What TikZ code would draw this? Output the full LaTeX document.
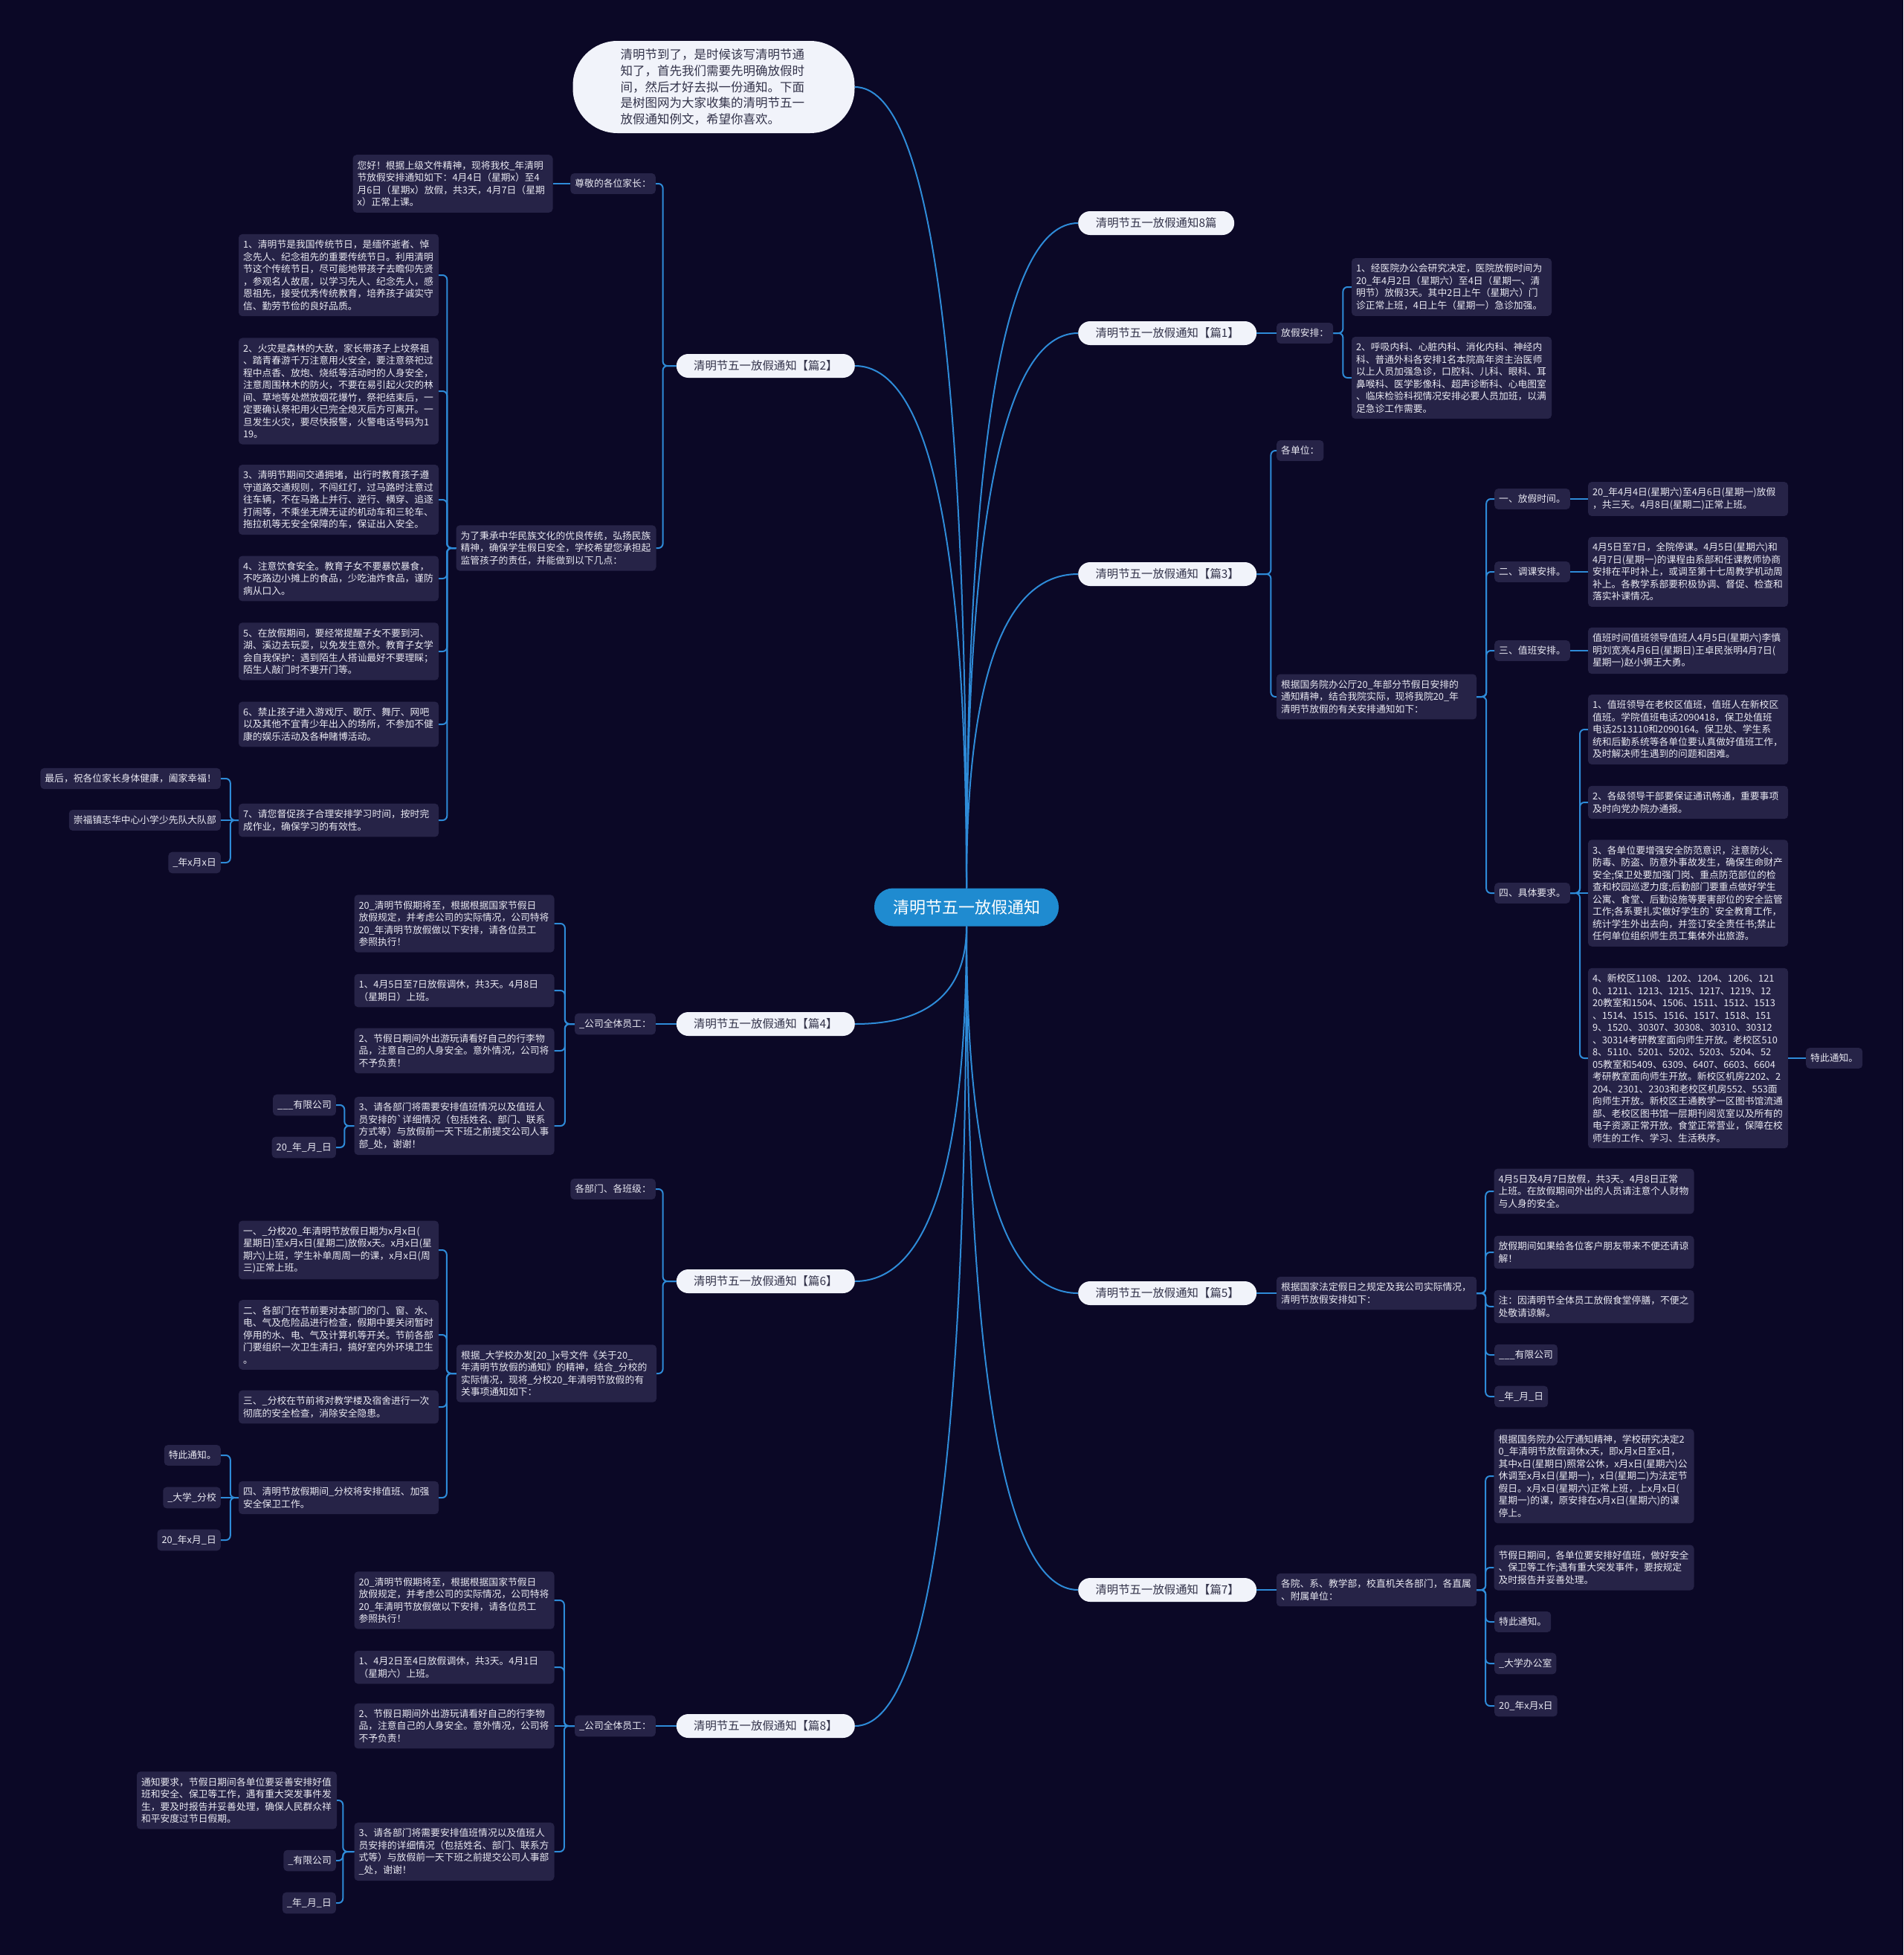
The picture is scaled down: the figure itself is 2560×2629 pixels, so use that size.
\documentclass[tikz,border=0pt]{standalone}
\usepackage{fontspec}
\setmainfont{Noto Sans CJK SC}
\usetikzlibrary{calc}
\definecolor{bgc}{HTML}{0B0826}
\definecolor{leaffill}{HTML}{262347}
\definecolor{leaftext}{HTML}{E9E9F2}
\definecolor{linec}{HTML}{2E8BD8}
\definecolor{rootfill}{HTML}{1F8BD0}
\definecolor{lvfill}{HTML}{F1F3FA}
\definecolor{lvtext}{HTML}{33334A}
\newcommand\leaffont{\fontsize{12.8pt}{16.5pt}\selectfont}
\newcommand\lvfont{\fontsize{15.4pt}{18pt}\selectfont}
\newcommand\rootfont{\fontsize{22pt}{26pt}\selectfont}
\newcommand\bubfont{\fontsize{16.5pt}{21.7pt}\selectfont}
\newcommand\mmcurve[2]{\draw[mline] (#1) .. controls ($(#1)!0.6667!(#1 |- #2)$) and ($(#2)!0.6667!(#1 |- #2)$) .. (#2);}
\tikzset{
 leaf/.style={fill=leaffill, text=leaftext, rounded corners=5pt, inner xsep=6pt, inner ysep=8pt, font=\leaffont},
 wleaf/.style={leaf, text width=257pt, align=left},
 lvl1/.style={fill=lvfill, text=lvtext, rounded corners=16pt, minimum width=240pt, minimum height=32pt, inner sep=0pt, font=\lvfont},
 rootnode/.style={fill=rootfill, text=white, rounded corners=25pt, minimum width=248pt, minimum height=51pt, inner sep=0pt, font=\rootfont},
 bubble/.style={fill=lvfill, text=lvtext, rounded corners=60pt, minimum width=379pt, minimum height=124pt, text width=251pt, align=left, font=\bubfont, inner sep=0pt},
 conn/.style={draw=linec, line width=2pt, rounded corners=6pt},
 mline/.style={draw=linec, line width=2pt},
}
\begin{document}
\begin{tikzpicture}[x=1pt,y=-1pt]
\useasboundingbox (0,0) rectangle (2560,2629);
\fill[bgc] (0,0) rectangle (2560,2629);

% root and intro
\node[rootnode] (c) at (1300,1220) {清明节五一放假通知};
\node[bubble] (intro) at (960,117) {清明节到了，是时候该写清明节通\\知了，首先我们需要先明确放假时\\间，然后才好去拟一份通知。下面\\是树图网为大家收集的清明节五一\\放假通知例文，希望你喜欢。};

% level 1
\node[lvl1, anchor=west, minimum width=210pt] (p0) at (1450,300) {清明节五一放假通知8篇};
\node[lvl1, anchor=west] (p1) at (1450,448) {清明节五一放假通知【篇1】};
\node[lvl1, anchor=west] (p3) at (1450,772) {清明节五一放假通知【篇3】};
\node[lvl1, anchor=west] (p5) at (1450,1739) {清明节五一放假通知【篇5】};
\node[lvl1, anchor=west] (p7) at (1450,2138) {清明节五一放假通知【篇7】};
\node[lvl1, anchor=east] (p2) at (1150,492) {清明节五一放假通知【篇2】};
\node[lvl1, anchor=east] (p4) at (1150,1377) {清明节五一放假通知【篇4】};
\node[lvl1, anchor=east] (p6) at (1150,1723) {清明节五一放假通知【篇6】};
\node[lvl1, anchor=east] (p8) at (1150,2321) {清明节五一放假通知【篇8】};

\mmcurve{c.north}{intro.east}
\mmcurve{c.north}{p2.east}
\mmcurve{c.north}{p0.west}
\mmcurve{c.north}{p1.west}
\mmcurve{c.north}{p3.west}
\mmcurve{c.south}{p4.east}
\mmcurve{c.south}{p6.east}
\mmcurve{c.south}{p8.east}
\mmcurve{c.south}{p5.west}
\mmcurve{c.south}{p7.west}

% ---------- 篇2 ----------
\node[leaf, anchor=east] (p2a) at (882,247) {尊敬的各位家长：};
\node[wleaf] (p2a1) at (609,247) {您好！根据上级文件精神，现将我校\_年清明\\节放假安排通知如下：4月4日（星期x）至4\\月6日（星期x）放假，共3天，4月7日（星期\\x）正常上课。};
\node[wleaf] (p2b) at (748,737) {为了秉承中华民族文化的优良传统，弘扬民族\\精神，确保学生假日安全，学校希望您承担起\\监管孩子的责任，并能做到以下几点：};
\node[wleaf] (p2b1) at (455.5,370) {1、清明节是我国传统节日，是缅怀逝者、悼\\念先人、纪念祖先的重要传统节日。利用清明\\节这个传统节日，尽可能地带孩子去瞻仰先贤\\，参观名人故居，以学习先人、纪念先人，感\\恩祖先，接受优秀传统教育，培养孩子诚实守\\信、勤劳节俭的良好品质。};
\node[wleaf] (p2b2) at (455.5,526) {2、火灾是森林的大敌，家长带孩子上坟祭祖\\、踏青春游千万注意用火安全，要注意祭祀过\\程中点香、放炮、烧纸等活动时的人身安全，\\注意周围林木的防火，不要在易引起火灾的林\\间、草地等处燃放烟花爆竹，祭祀结束后，一\\定要确认祭祀用火已完全熄灭后方可离开。一\\旦发生火灾，要尽快报警，火警电话号码为1\\19。};
\node[wleaf] (p2b3) at (455.5,672) {3、清明节期间交通拥堵，出行时教育孩子遵\\守道路交通规则，不闯红灯，过马路时注意过\\往车辆，不在马路上并行、逆行、横穿、追逐\\打闹等，不乘坐无牌无证的机动车和三轮车、\\拖拉机等无安全保障的车，保证出入安全。};
\node[wleaf] (p2b4) at (455.5,778) {4、注意饮食安全。教育子女不要暴饮暴食，\\不吃路边小摊上的食品，少吃油炸食品，谨防\\病从口入。};
\node[wleaf] (p2b5) at (455.5,876) {5、在放假期间，要经常提醒子女不要到河、\\湖、溪边去玩耍，以免发生意外。教育子女学\\会自我保护：遇到陌生人搭讪最好不要理睬；\\陌生人敲门时不要开门等。};
\node[wleaf] (p2b6) at (455.5,974) {6、禁止孩子进入游戏厅、歌厅、舞厅、网吧\\以及其他不宜青少年出入的场所，不参加不健\\康的娱乐活动及各种赌博活动。};
\node[wleaf] (p2b7) at (455.5,1103) {7、请您督促孩子合理安排学习时间，按时完\\成作业，确保学习的有效性。};
\node[leaf, anchor=east] (p2c1) at (297,1047) {最后，祝各位家长身体健康，阖家幸福！};
\node[leaf, anchor=east] (p2c2) at (297,1103) {崇福镇志华中心小学少先队大队部};
\node[leaf, anchor=east] (p2c3) at (297,1160) {\_年x月x日};

\draw[conn] (p2.west) -- ++(-18,0) |- (p2a.east);
\draw[conn] (p2.west) -- ++(-18,0) |- (p2b.east);
\draw[conn] (p2a.west) -- (p2a1.east);
\foreach \i in {1,...,7} {\draw[conn] (p2b.west) -- ++(-12,0) |- (p2b\i.east);}
\draw[conn] (p2b7.west) -- ++(-11,0) |- (p2c1.east);
\draw[conn] (p2b7.west) -- (p2c2.east);
\draw[conn] (p2b7.west) -- ++(-11,0) |- (p2c3.east);

% ---------- 篇4 ----------
\node[leaf, anchor=east] (p4a) at (882,1377) {\_公司全体员工：};
\node[wleaf] (p4a1) at (611,1242) {20\_清明节假期将至，根据根据国家节假日\\放假规定，并考虑公司的实际情况，公司特将\\20\_年清明节放假做以下安排，请各位员工\\参照执行！};
\node[wleaf] (p4a2) at (611,1332) {1、4月5日至7日放假调休，共3天。4月8日\\（星期日）上班。};
\node[wleaf] (p4a3) at (611,1413) {2、节假日期间外出游玩请看好自己的行李物\\品，注意自己的人身安全。意外情况，公司将\\不予负责！};
\node[wleaf] (p4a4) at (611,1514) {3、请各部门将需要安排值班情况以及值班人\\员安排的\textasciigrave 详细情况（包括姓名、部门、联系\\方式等）与放假前一天下班之前提交公司人事\\部\_处，谢谢！};
\node[leaf, anchor=east] (p4b1) at (452,1486) {\_\_\_有限公司};
\node[leaf, anchor=east] (p4b2) at (452,1543) {20\_年\_月\_日};

\draw[conn] (p4.west) -- (p4a.east);
\foreach \i in {1,...,4} {\draw[conn] (p4a.west) -- ++(-13,0) |- (p4a\i.east);}
\draw[conn] (p4a4.west) -- ++(-13,0) |- (p4b1.east);
\draw[conn] (p4a4.west) -- ++(-13,0) |- (p4b2.east);

% ---------- 篇6 ----------
\node[leaf, anchor=east] (p6a) at (882,1599) {各部门、各班级：};
\node[wleaf] (p6b) at (748.5,1847) {根据\_大学校办发[20\_]x号文件《关于20\_\\年清明节放假的通知》的精神，结合\_分校的\\实际情况，现将\_分校20\_年清明节放假的有\\关事项通知如下：};
\node[wleaf] (p6b1) at (455.5,1681) {一、\_分校20\_年清明节放假日期为x月x日(\\星期日)至x月x日(星期二)放假x天。x月x日(星\\期六)上班，学生补单周周一的课，x月x日(周\\三)正常上班。};
\node[wleaf] (p6b2) at (455.5,1795) {二、各部门在节前要对本部门的门、窗、水、\\电、气及危险品进行检查，假期中要关闭暂时\\停用的水、电、气及计算机等开关。节前各部\\门要组织一次卫生清扫，搞好室内外环境卫生\\。};
\node[wleaf] (p6b3) at (455.5,1892) {三、\_分校在节前将对教学楼及宿舍进行一次\\彻底的安全检查，消除安全隐患。};
\node[wleaf] (p6b4) at (455.5,2014) {四、清明节放假期间\_分校将安排值班、加强\\安全保卫工作。};
\node[leaf, anchor=east] (p6c1) at (297,1957) {特此通知。};
\node[leaf, anchor=east] (p6c2) at (297,2014) {\_大学\_分校};
\node[leaf, anchor=east] (p6c3) at (297,2071) {20\_年x月\_日};

\draw[conn] (p6.west) -- ++(-18,0) |- (p6a.east);
\draw[conn] (p6.west) -- ++(-18,0) |- (p6b.east);
\foreach \i in {1,...,4} {\draw[conn] (p6b.west) -- ++(-13,0) |- (p6b\i.east);}
\draw[conn] (p6b4.west) -- ++(-11,0) |- (p6c1.east);
\draw[conn] (p6b4.west) -- (p6c2.east);
\draw[conn] (p6b4.west) -- ++(-11,0) |- (p6c3.east);

% ---------- 篇8 ----------
\node[leaf, anchor=east] (p8a) at (882,2321) {\_公司全体员工：};
\node[wleaf] (p8a1) at (611,2152) {20\_清明节假期将至，根据根据国家节假日\\放假规定，并考虑公司的实际情况，公司特将\\20\_年清明节放假做以下安排，请各位员工\\参照执行！};
\node[wleaf] (p8a2) at (611,2242) {1、4月2日至4日放假调休，共3天。4月1日\\（星期六）上班。};
\node[wleaf] (p8a3) at (611,2321) {2、节假日期间外出游玩请看好自己的行李物\\品，注意自己的人身安全。意外情况，公司将\\不予负责！};
\node[wleaf] (p8a4) at (611,2490) {3、请各部门将需要安排值班情况以及值班人\\员安排的详细情况（包括姓名、部门、联系方\\式等）与放假前一天下班之前提交公司人事部\\\_处，谢谢！};
\node[wleaf] (p8b1) at (318.5,2421) {通知要求，节假日期间各单位要妥善安排好值\\班和安全、保卫等工作，遇有重大突发事件发\\生，要及时报告并妥善处理，确保人民群众祥\\和平安度过节日假期。};
\node[leaf, anchor=east] (p8b2) at (452,2502) {\_有限公司};
\node[leaf, anchor=east] (p8b3) at (452,2559) {\_年\_月\_日};

\draw[conn] (p8.west) -- (p8a.east);
\draw[conn] (p8a.west) -- ++(-14,0) |- (p8a1.east);
\draw[conn] (p8a.west) -- ++(-14,0) |- (p8a2.east);
\draw[conn] (p8a.west) -- (p8a3.east);
\draw[conn] (p8a.west) -- ++(-14,0) |- (p8a4.east);
\foreach \i in {1,2,3} {\draw[conn] (p8a4.west) -- ++(-15,0) |- (p8b\i.east);}

% ---------- 篇1 ----------
\node[leaf, anchor=west] (p1a) at (1717,448) {放假安排：};
\node[wleaf] (p1a1) at (1952.5,386) {1、经医院办公会研究决定，医院放假时间为\\20\_年4月2日（星期六）至4日（星期一、清\\明节）放假3天。其中2日上午（星期六）门\\诊正常上班，4日上午（星期一）急诊加强。};
\node[wleaf] (p1a2) at (1952.5,508) {2、呼吸内科、心脏内科、消化内科、神经内\\科、普通外科各安排1名本院高年资主治医师\\以上人员加强急诊，口腔科、儿科、眼科、耳\\鼻喉科、医学影像科、超声诊断科、心电图室\\、临床检验科视情况安排必要人员加班，以满\\足急诊工作需要。};

\draw[conn] (p1.east) -- (p1a.west);
\draw[conn] (p1a.east) -- ++(13,0) |- (p1a1.west);
\draw[conn] (p1a.east) -- ++(13,0) |- (p1a2.west);

% ---------- 篇3 ----------
\node[leaf, anchor=west] (p3a) at (1717,606) {各单位：};
\node[wleaf] (p3b) at (1851.5,937) {根据国务院办公厅20\_年部分节假日安排的\\通知精神，结合我院实际，现将我院20\_年\\清明节放假的有关安排通知如下：};
\node[leaf, anchor=west] (p3c1) at (2010,671) {一、放假时间。};
\node[leaf, anchor=west] (p3c2) at (2010,769) {二、调课安排。};
\node[leaf, anchor=west] (p3c3) at (2010,875) {三、值班安排。};
\node[leaf, anchor=west] (p3c4) at (2010,1201) {四、具体要求。};
\node[wleaf] (p3d1) at (2270.5,671) {20\_年4月4日(星期六)至4月6日(星期一)放假\\，共三天。4月8日(星期二)正常上班。};
\node[wleaf] (p3d2) at (2270.5,769) {4月5日至7日，全院停课。4月5日(星期六)和\\4月7日(星期一)的课程由系部和任课教师协商\\安排在平时补上，或调至第十七周教学机动周\\补上。各教学系部要积极协调、督促、检查和\\落实补课情况。};
\node[wleaf] (p3d3) at (2270.5,875) {值班时间值班领导值班人4月5日(星期六)李慎\\明刘宽亮4月6日(星期日)王卓民张明4月7日(\\星期一)赵小狮王大勇。};
\node[wleaf] (p3e1) at (2270.5,981) {1、值班领导在老校区值班，值班人在新校区\\值班。学院值班电话2090418，保卫处值班\\电话2513110和2090164。保卫处、学生系\\统和后勤系统等各单位要认真做好值班工作，\\及时解决师生遇到的问题和困难。};
\node[wleaf] (p3e2) at (2270.5,1079) {2、各级领导干部要保证通讯畅通，重要事项\\及时向党办院办通报。};
\node[wleaf] (p3e3) at (2270.5,1201) {3、各单位要增强安全防范意识，注意防火、\\防毒、防盗、防意外事故发生，确保生命财产\\安全;保卫处要加强门岗、重点防范部位的检\\查和校园巡逻力度;后勤部门要重点做好学生\\公寓、食堂、后勤设施等要害部位的安全监管\\工作;各系要扎实做好学生的\textasciigrave 安全教育工作，\\统计学生外出去向，并签订安全责任书;禁止\\任何单位组织师生员工集体外出旅游。};
\node[wleaf] (p3e4) at (2270.5,1423) {4、新校区1108、1202、1204、1206、121\\0、1211、1213、1215、1217、1219、12\\20教室和1504、1506、1511、1512、1513\\、1514、1515、1516、1517、1518、151\\9、1520、30307、30308、30310、30312\\、30314考研教室面向师生开放。老校区510\\8、5110、5201、5202、5203、5204、52\\05教室和5409、6309、6407、6603、6604\\考研教室面向师生开放。新校区机房2202、2\\204、2301、2303和老校区机房552、553面\\向师生开放。新校区王通教学一区图书馆流通\\部、老校区图书馆一层期刊阅览室以及所有的\\电子资源正常开放。食堂正常营业，保障在校\\师生的工作、学习、生活秩序。};
\node[leaf, anchor=west] (p3f) at (2429,1423) {特此通知。};

\draw[conn] (p3.east) -- ++(19,0) |- (p3a.west);
\draw[conn] (p3.east) -- ++(19,0) |- (p3b.west);
\foreach \i in {1,...,4} {\draw[conn] (p3b.east) -- ++(13,0) |- (p3c\i.west);}
\foreach \i in {1,2,3} {\draw[conn] (p3c\i.east) -- (p3d\i.west);}
\draw[conn] (p3c4.east) -- ++(13,0) |- (p3e1.west);
\draw[conn] (p3c4.east) -- ++(13,0) |- (p3e2.west);
\draw[conn] (p3c4.east) -- (p3e3.west);
\draw[conn] (p3c4.east) -- ++(13,0) |- (p3e4.west);
\draw[conn] (p3e4.east) -- (p3f.west);

% ---------- 篇5 ----------
\node[wleaf] (p5a) at (1851.5,1739) {根据国家法定假日之规定及我公司实际情况，\\清明节放假安排如下：};
\node[wleaf] (p5b1) at (2144,1602) {4月5日及4月7日放假，共3天。4月8日正常\\上班。在放假期间外出的人员请注意个人财物\\与人身的安全。};
\node[wleaf] (p5b2) at (2144,1684) {放假期间如果给各位客户朋友带来不便还请谅\\解！};
\node[wleaf] (p5b3) at (2144,1757) {注：因清明节全体员工放假食堂停膳，不便之\\处敬请谅解。};
\node[leaf, anchor=west] (p5b4) at (2010,1822) {\_\_\_有限公司};
\node[leaf, anchor=west] (p5b5) at (2010,1878) {\_年\_月\_日};

\draw[conn] (p5.east) -- (p5a.west);
\foreach \i in {1,...,5} {\draw[conn] (p5a.east) -- ++(12,0) |- (p5b\i.west);}

% ---------- 篇7 ----------
\node[wleaf] (p7a) at (1851.5,2138) {各院、系、教学部，校直机关各部门，各直属\\、附属单位：};
\node[wleaf] (p7b1) at (2144,1985) {根据国务院办公厅通知精神，学校研究决定2\\0\_年清明节放假调休x天，即x月x日至x日，\\其中x日(星期日)照常公休，x月x日(星期六)公\\休调至x月x日(星期一)，x日(星期二)为法定节\\假日。x月x日(星期六)正常上班，上x月x日(\\星期一)的课，原安排在x月x日(星期六)的课\\停上。};
\node[wleaf] (p7b2) at (2144,2108) {节假日期间，各单位要安排好值班，做好安全\\、保卫等工作;遇有重大突发事件，要按规定\\及时报告并妥善处理。};
\node[leaf, anchor=west] (p7b3) at (2010,2181) {特此通知。};
\node[leaf, anchor=west] (p7b4) at (2010,2237) {\_大学办公室};
\node[leaf, anchor=west] (p7b5) at (2010,2294) {20\_年x月x日};

\draw[conn] (p7.east) -- (p7a.west);
\foreach \i in {1,...,5} {\draw[conn] (p7a.east) -- ++(12,0) |- (p7b\i.west);}
\end{tikzpicture}
\end{document}
